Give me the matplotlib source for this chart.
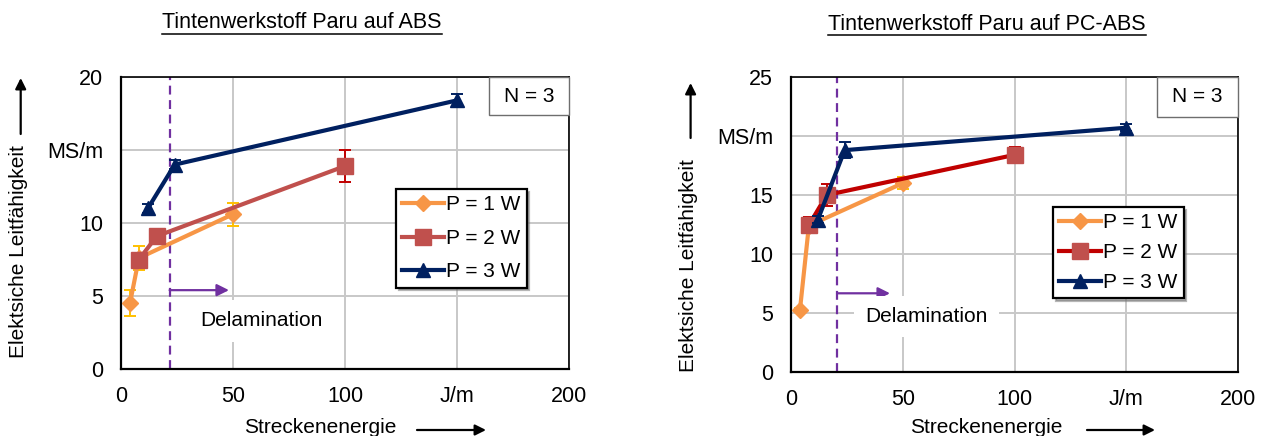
import matplotlib
matplotlib.use("Agg")
import matplotlib.pyplot as plt
from matplotlib.lines import Line2D
from matplotlib.patches import Rectangle

plt.rcParams['font.family'] = ['Liberation Sans', 'DejaVu Sans']

# ---------------- data ----------------
series_labels = ["P = 1 W", "P = 2 W", "P = 3 W"]
x_ticks = [0, 50, 100, 150, 200]
x_tick_labels = ["0", "50", "100", "J/m", "200"]

x_p1 = [4, 8, 50]
x_p2 = [8, 16, 100]
x_p3 = [12, 24, 150]

# ABS
abs_p1 = [4.5, 7.6, 10.6]
abs_p1_err = [0.9, 0.85, 0.8]
abs_p2 = [7.5, 9.1, 13.9]
abs_p2_err = [0.3, 0.3, 1.1]
abs_p3 = [11.0, 14.0, 18.4]
abs_p3_err = [0.3, 0.3, 0.45]
abs_y_ticks = [0, 5, 10, 15, 20]
abs_y_tick_labels = ["0", "5", "10", "MS/m", "20"]

# PC-ABS
pc_p1 = [5.25, 12.4, 16.0]
pc_p1_err = [0.15, 0.5, 0.5]
pc_p2 = [12.45, 15.0, 18.4]
pc_p2_err = [0.7, 0.9, 0.7]
pc_p3 = [12.9, 18.8, 20.7]
pc_p3_err = [0.3, 0.7, 0.3]
pc_y_ticks = [0, 5, 10, 15, 20, 25]
pc_y_tick_labels = ["0", "5", "10", "15", "MS/m", "25"]

delam_x_abs = 21.7
delam_x_pc = 20.6

W, H = 1274, 436
fig = plt.figure(figsize=(W / 100, H / 100), dpi=100)


def fx(px):
    return px / W


def fy(py):
    return 1 - py / H


FS = 15
TICK_FS = 15.5
ORANGE = "#F79646"
ORANGE_ERR = "#FFC000"
RED_L = "#C0504D"
RED_D = "#C00000"
NAVY = "#002060"
PURPLE = "#7030A0"


def make_axes(rect_px, ymax, yticks, yticklabels):
    l, t, r, b = rect_px
    ax = fig.add_axes([fx(l), fy(b), fx(r) - fx(l), fy(t) - fy(b)])
    ax.set_xlim(0, 200)
    ax.set_ylim(0, ymax)
    ax.set_xticks(x_ticks)
    ax.set_xticklabels(x_tick_labels)
    ax.set_yticks(yticks)
    ax.set_yticklabels(yticklabels)
    ax.tick_params(length=0, labelsize=TICK_FS)
    ax.tick_params(axis='x', pad=12)
    ax.tick_params(axis='y', pad=13)
    ax.grid(True, color="#C8C8C8", linewidth=1.4)
    ax.set_axisbelow(True)
    for s in ax.spines.values():
        s.set_color("black")
        s.set_linewidth(1.2)
    ax.spines['left'].set_linewidth(1.6)
    ax.spines['bottom'].set_linewidth(1.6)
    return ax


def draw_series(ax, xs, ys, errs, line_c, mk_c, err_c, marker, ms, label, z):
    ax.errorbar(xs, ys, yerr=errs, fmt='none', ecolor=err_c, elinewidth=1.4,
                capsize=4, capthick=1.4, zorder=z)
    h, = ax.plot(xs, ys, color=line_c, linewidth=3, marker=marker, markersize=ms,
                 markerfacecolor=mk_c, markeredgecolor=mk_c, label=label, zorder=z + 0.5)
    return h


def decorate(ax, delam_x, arrow_y, arrow_x_end, delam_text_px):
    ax.axvline(delam_x, color=PURPLE, linestyle=(0, (4, 2.5)), linewidth=1.6, zorder=1.5)
    ax.annotate("", xy=(arrow_x_end, arrow_y), xytext=(delam_x, arrow_y),
                arrowprops=dict(arrowstyle='-|>', color=PURPLE, lw=1.6,
                                mutation_scale=18, shrinkA=0, shrinkB=0), zorder=1.6)
    fig.text(fx(delam_text_px[0]), fy(delam_text_px[1]), "Delamination", fontsize=FS,
             ha='center', va='center', zorder=5,
             bbox=dict(boxstyle='square,pad=0.55', facecolor='white', edgecolor='none'))


def legend_at(ax, handles, px, labelspacing):
    leg = ax.legend(handles=handles, loc='upper left',
                    bbox_to_anchor=(fx(px[0]), fy(px[1])), bbox_transform=fig.transFigure,
                    borderaxespad=0, fontsize=FS, handlelength=2.0, handletextpad=0.1,
                    borderpad=0.3, labelspacing=labelspacing, fancybox=False,
                    framealpha=1, edgecolor='black',
                    shadow={'color': '#7a7a7a', 'alpha': 0.55})
    leg.get_frame().set_linewidth(1.6)
    leg.set_zorder(10)
    return leg


def nbox(l, t, r, b):
    fig.patches.append(Rectangle((fx(l), fy(b)), fx(r) - fx(l), fy(t) - fy(b),
                                 transform=fig.transFigure, facecolor='white',
                                 edgecolor='#6e6e6e', linewidth=1.0, zorder=6))
    fig.text(fx((l + r) / 2), fy((t + b) / 2), "N = 3", fontsize=FS, ha='center',
             va='center', zorder=7)


# ---------------- left chart ----------------
axL = make_axes((121, 77, 569, 369), 20, abs_y_ticks, abs_y_tick_labels)
h1 = draw_series(axL, x_p1, abs_p1, abs_p1_err, ORANGE, ORANGE, ORANGE_ERR, 'D', 8, series_labels[0], 3)
h2 = draw_series(axL, x_p2, abs_p2, abs_p2_err, RED_L, RED_L, RED_D, 's', 11, series_labels[1], 4)
h3 = draw_series(axL, x_p3, abs_p3, abs_p3_err, NAVY, NAVY, NAVY, '^', 10, series_labels[2], 5)
decorate(axL, delam_x_abs, 5.4, 48.2, (261.5, 321))
legend_at(axL, [h1, h2, h3], (396, 189), 0.70)
nbox(489, 77, 569, 115)

# ---------------- right chart ----------------
axR = make_axes((791, 77, 1238, 372), 25, pc_y_ticks, pc_y_tick_labels)
g1 = draw_series(axR, x_p1, pc_p1, pc_p1_err, ORANGE, ORANGE, ORANGE_ERR, 'D', 8, series_labels[0], 3)
g2 = draw_series(axR, x_p2, pc_p2, pc_p2_err, RED_D, RED_L, RED_D, 's', 11, series_labels[1], 4)
g3 = draw_series(axR, x_p3, pc_p3, pc_p3_err, NAVY, NAVY, NAVY, '^', 10, series_labels[2], 5)
decorate(axR, delam_x_pc, 6.67, 44.3, (926.6, 316.5))
legend_at(axR, [g1, g2, g3], (1053, 207), 0.52)
nbox(1157, 77, 1238, 117)

# ---------------- titles (underlined) ----------------
titles = []
titles.append(fig.text(fx(302), fy(23), "Tintenwerkstoff Paru auf ABS", fontsize=15.5,
                       ha='center', va='center'))
titles.append(fig.text(fx(987), fy(24), "Tintenwerkstoff Paru auf PC-ABS", fontsize=15.5,
                       ha='center', va='center'))

# ---------------- axis labels with arrows ----------------
fig.text(fx(19), fy(252), "Elektsiche Leitfähigkeit", fontsize=FS, rotation=90,
         ha='center', va='center')
fig.text(fx(688), fy(266), "Elektsiche Leitfähigkeit", fontsize=FS, rotation=90,
         ha='center', va='center')
fig.text(fx(320), fy(427), "Streckenenergie", fontsize=FS, ha='center', va='center')
fig.text(fx(986), fy(427), "Streckenenergie", fontsize=FS, ha='center', va='center')


def farrow(x0, y0, x1, y1):
    fig.add_artist(matplotlib.patches.FancyArrowPatch(
        (fx(x0), fy(y0)), (fx(x1), fy(y1)), transform=fig.transFigure,
        arrowstyle='-|>', mutation_scale=16, color='black', lw=1.6,
        shrinkA=0, shrinkB=0))


farrow(20.7, 134, 20.7, 78)
farrow(690.6, 138, 690.6, 83)
farrow(417, 430, 486, 430)
farrow(1087, 430, 1155, 430)

# underline titles
fig.canvas.draw()
renderer = fig.canvas.get_renderer()
for t in titles:
    bb = t.get_window_extent(renderer)
    y_line = bb.y0 - 1
    fig.add_artist(Line2D([bb.x0 / W, bb.x1 / W], [y_line / H, y_line / H],
                          transform=fig.transFigure, color='black', linewidth=1.1))

fig.savefig("out.png", dpi=100)
